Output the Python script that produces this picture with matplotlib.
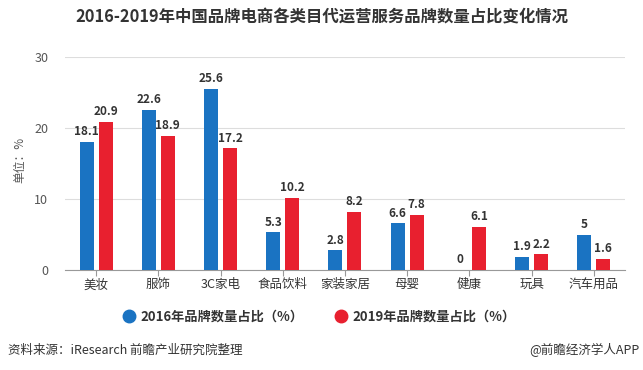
import matplotlib
matplotlib.use("Agg")
import matplotlib.pyplot as plt
import numpy as np
from matplotlib.lines import Line2D

plt.rcParams['font.family'] = ['Noto Sans CJK SC', 'DejaVu Sans']

categories = ['美妆', '服饰', '3C家电', '食品饮料', '家装家居', '母婴', '健康', '玩具', '汽车用品']
share_2016 = [18.1, 22.6, 25.6, 5.3, 2.8, 6.6, 0, 1.9, 5]
share_2019 = [20.9, 18.9, 17.2, 10.2, 8.2, 7.8, 6.1, 2.2, 1.6]
label_2016 = [str(v) for v in share_2016]
label_2019 = [str(v) for v in share_2019]
series_names = ['2016年品牌数量占比（%）', '2019年品牌数量占比（%）']
yticks = [0, 10, 20, 30]

blue = '#1a73c2'
red = '#e8202f'
txt = '#333333'

fig = plt.figure(figsize=(6.43, 3.70), dpi=100)
ax = fig.add_axes([0.101, 0.2703, 0.871, 0.5747])

x = np.arange(len(categories))
w = 0.225
off = 0.153
b1 = ax.bar(x - off, share_2016, width=w, color=blue, zorder=3)
b2 = ax.bar(x + off, share_2019, width=w, color=red, zorder=3)

for bars, labels in ((b1, label_2016), (b2, label_2019)):
    for rect, lab in zip(bars, labels):
        ax.text(rect.get_x() + rect.get_width() / 2, rect.get_height() + 0.5, lab,
                ha='center', va='bottom', fontsize=8.5, fontweight='bold', color=txt)

ax.set_xlim(-0.5, len(categories) - 0.5)
ax.set_ylim(0, 30)
ax.set_yticks(yticks)
ax.set_xticks(x)
ax.set_xticklabels(categories, fontsize=9, color=txt)
ax.tick_params(axis='y', length=0, labelsize=9, labelcolor='#555555', pad=12)
ax.tick_params(axis='x', length=4, color='#999999', pad=2)
ax.grid(axis='y', color='#dddddd', linewidth=0.8, zorder=0)
for s in ['top', 'right', 'left']:
    ax.spines[s].set_visible(False)
ax.spines['bottom'].set_color('#999999')

fig.text(0.031, 0.568, '单位：%', rotation=90, ha='center', va='center', fontsize=8.5, color='#555555')

fig.text(0.5, 0.952, '2016-2019年中国品牌电商各类目代运营服务品牌数量占比变化情况',
         ha='center', va='center', fontsize=11.8, fontweight='bold', color=txt)

handles = [Line2D([0], [0], marker='o', linestyle='', markersize=9, markerfacecolor=blue, markeredgecolor=blue),
           Line2D([0], [0], marker='o', linestyle='', markersize=9, markerfacecolor=red, markeredgecolor=red)]
leg = fig.legend(handles, series_names, loc='center', bbox_to_anchor=(0.495, 0.143), ncol=2,
                 frameon=False, prop={'size': 9.5, 'weight': 'bold'}, handletextpad=0.3,
                 columnspacing=2.2, handlelength=1.2)
for t in leg.get_texts():
    t.set_color(txt)

fig.text(0.012, 0.054, '资料来源：iResearch 前瞻产业研究院整理', ha='left', va='center', fontsize=9, color=txt)
fig.text(0.995, 0.054, '@前瞻经济学人APP', ha='right', va='center', fontsize=9, color=txt)

fig.savefig('out.png', dpi=100)
